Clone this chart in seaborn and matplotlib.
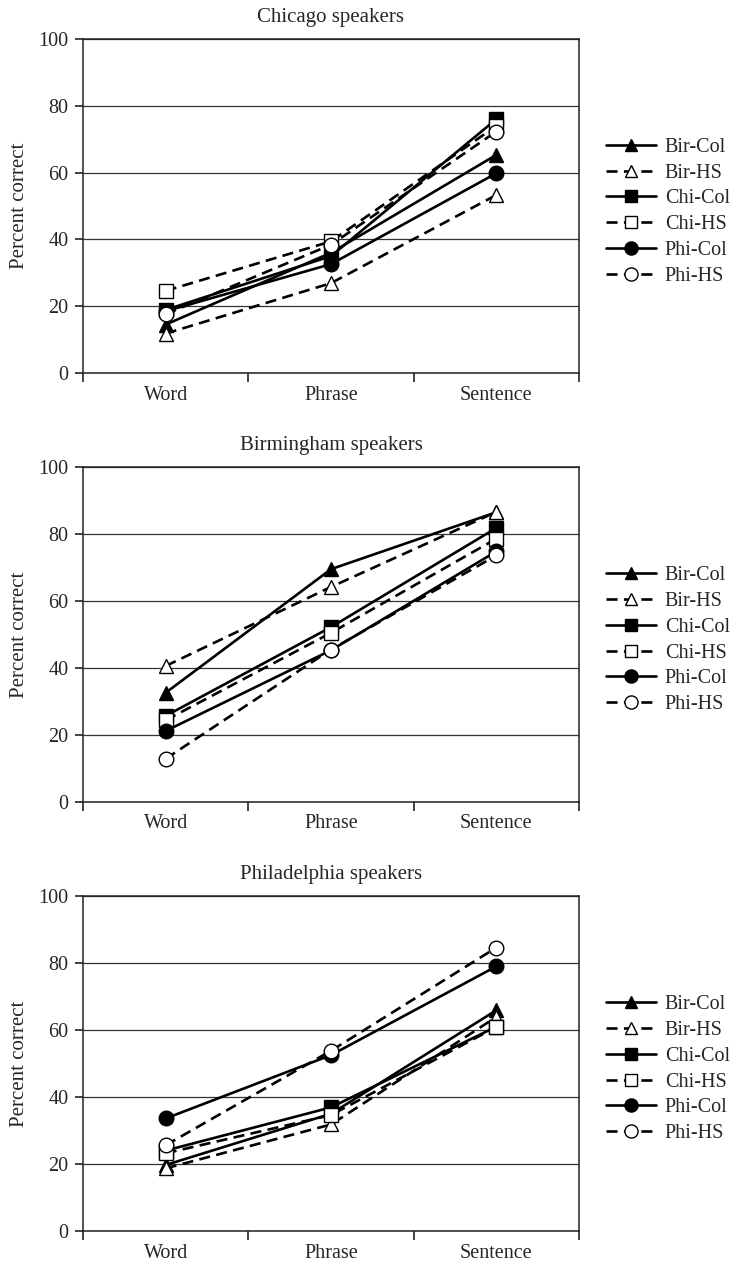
import matplotlib
matplotlib.use("Agg")
import matplotlib.pyplot as plt
import seaborn as sns

sns.set_theme(style="white")
plt.rcParams["font.family"] = ["Liberation Serif", "DejaVu Serif"]

# Task levels on the x axis
levels = ["Word", "Phrase", "Sentence"]

# Listener groups (city + education)
groups = ["Bir-Col", "Bir-HS", "Chi-Col", "Chi-HS", "Phi-Col", "Phi-HS"]

# Percent correct for Chicago speakers
chicago_bir_col = [14.5, 36.0, 65.3]
chicago_bir_hs = [11.8, 26.9, 53.3]
chicago_chi_col = [18.9, 35.0, 76.0]
chicago_chi_hs = [24.6, 39.4, 74.0]
chicago_phi_col = [18.5, 32.6, 59.8]
chicago_phi_hs = [17.6, 38.4, 72.3]

# Percent correct for Birmingham speakers
birmingham_bir_col = [32.6, 69.5, 86.5]
birmingham_bir_hs = [40.6, 64.2, 86.6]
birmingham_chi_col = [25.7, 52.2, 81.8]
birmingham_chi_hs = [24.4, 50.5, 78.6]
birmingham_phi_col = [21.2, 45.3, 74.8]
birmingham_phi_hs = [12.9, 45.5, 73.6]

# Percent correct for Philadelphia speakers
philadelphia_bir_col = [19.7, 35.0, 65.9]
philadelphia_bir_hs = [18.7, 31.8, 63.9]
philadelphia_chi_col = [24.0, 36.9, 61.0]
philadelphia_chi_hs = [23.2, 34.6, 60.9]
philadelphia_phi_col = [33.6, 52.5, 79.0]
philadelphia_phi_hs = [25.6, 53.8, 84.6]

panels = [
    ("Chicago speakers", [chicago_bir_col, chicago_bir_hs, chicago_chi_col,
                          chicago_chi_hs, chicago_phi_col, chicago_phi_hs]),
    ("Birmingham speakers", [birmingham_bir_col, birmingham_bir_hs, birmingham_chi_col,
                             birmingham_chi_hs, birmingham_phi_col, birmingham_phi_hs]),
    ("Philadelphia speakers", [philadelphia_bir_col, philadelphia_bir_hs, philadelphia_chi_col,
                               philadelphia_chi_hs, philadelphia_phi_col, philadelphia_phi_hs]),
]

# marker shape, filled?, dashed?
styles = {
    "Bir-Col": ("^", True, False),
    "Bir-HS": ("^", False, True),
    "Chi-Col": ("s", True, False),
    "Chi-HS": ("s", False, True),
    "Phi-Col": ("o", True, False),
    "Phi-HS": ("o", False, True),
}

fig = plt.figure(figsize=(7.35, 12.69), dpi=100)
W, H = 735.0, 1269.0
left_px, right_px = 83, 579
boxes = [(39, 373), (467, 802), (896, 1231)]
FS = 14.5

for (title, series), (top_px, bot_px) in zip(panels, boxes):
    ax = fig.add_axes([left_px / W, 1 - bot_px / H,
                       (right_px - left_px) / W, (bot_px - top_px) / H])
    for name, vals in zip(groups, series):
        marker, filled, dashed = styles[name]
        sns.lineplot(
            x=levels, y=vals, ax=ax, sort=False, color="black",
            linewidth=1.9, linestyle=(0, (4.2, 2.4)) if dashed else "-",
            marker=marker, markersize=10 if marker != "o" else 10.5,
            markerfacecolor="black" if filled else "white",
            markeredgecolor="black", markeredgewidth=1.0,
            label=name, zorder=3,
        )
    ax.set_xlim(-0.5, 2.5)
    ax.set_ylim(0, 100)
    ax.set_yticks([0, 20, 40, 60, 80, 100])
    ax.set_xticks([0, 1, 2])
    ax.set_xticklabels(levels)
    ax.set_xticks([-0.5, 0.5, 1.5, 2.5], minor=True)
    ax.tick_params(axis="x", which="major", length=0, labelsize=FS, pad=9)
    ax.tick_params(axis="x", which="minor", length=6.5, width=1.2, direction="out",
                   color="#222222", bottom=True)
    ax.tick_params(axis="y", length=5.5, width=1.2, direction="out", left=True,
                   color="#222222", labelsize=FS, pad=5)
    ax.yaxis.grid(True, color="#333333", linewidth=0.9)
    ax.xaxis.grid(False)
    ax.set_axisbelow(True)
    for sp in ax.spines.values():
        sp.set_visible(True)
        sp.set_color("#222222")
        sp.set_linewidth(1.1)
    ax.set_xlabel("")
    ax.set_ylabel("Percent correct", fontsize=15, labelpad=7)
    ax.set_title(title, fontsize=15, pad=12.5)
    ax.legend(loc="center left", bbox_to_anchor=(1.055, 0.483),
              frameon=False, fontsize=FS, handlelength=2.45,
              handletextpad=0.45, labelspacing=0.33, borderaxespad=0,
              borderpad=0, numpoints=1, markerscale=0.9)

fig.savefig("out.png", dpi=100)
